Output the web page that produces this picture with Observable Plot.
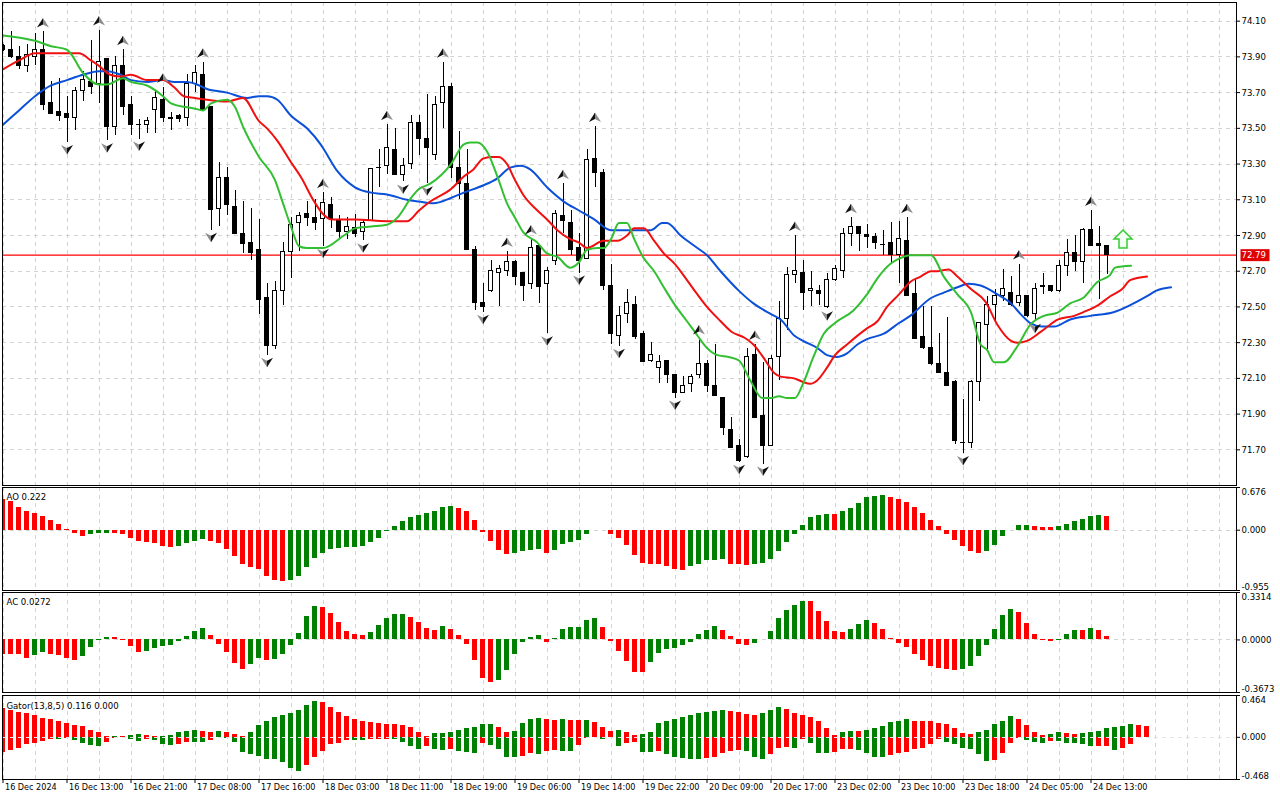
<!DOCTYPE html>
<html><head><meta charset="utf-8">
<script src="https://cdn.jsdelivr.net/npm/d3@7"></script>
<script src="https://cdn.jsdelivr.net/npm/@observablehq/plot@0.6"></script>
<style>
html,body{margin:0;padding:0;background:#fff;}
#wrap{position:relative;width:1280px;height:800px;overflow:hidden;background:#fff;}
</style></head><body><div id="wrap"></div>
<script>
// ---------- price data (one bar per hour, bar index 0..138) ----------
const open = [
73.96,73.94,73.90,73.85,73.90,73.94,73.64,73.59,73.58,73.56,
73.71,73.76,73.75,73.89,73.51,73.85,73.63,73.52,73.52,73.60,
73.66,73.55,73.57,73.56,73.75,73.80,73.62,73.05,73.22,73.06,
72.91,72.86,72.82,72.55,72.28,72.59,72.81,72.97,73.02,73.00,
72.99,73.07,72.98,72.92,72.94,72.92,72.98,73.28,73.29,73.38,
73.24,73.30,73.53,73.44,73.35,73.64,73.73,73.28,73.19,72.82,
72.52,72.59,72.69,72.70,72.75,72.69,72.63,72.84,72.63,72.76,
73.01,72.97,72.83,72.77,73.33,73.25,72.62,72.34,72.46,72.51,
72.35,72.20,72.16,72.20,72.12,72.02,72.07,72.12,72.18,72.06,
71.99,71.81,71.72,71.66,72.23,71.89,71.72,72.22,72.43,72.68,
72.69,72.59,72.59,72.50,72.65,72.70,72.91,72.95,72.90,72.89,
72.85,72.86,72.79,72.87,72.57,72.33,72.27,72.18,72.13,72.08,
71.74,71.74,72.08,72.40,72.51,72.56,72.58,72.52,72.56,72.46,
72.62,72.62,72.59,72.73,72.80,72.75,72.93,72.85,72.84];
const high = [
73.97,74.04,73.96,73.97,74.03,74.04,73.76,73.78,73.68,73.73,
73.82,73.99,74.05,73.89,73.90,73.94,73.68,73.55,73.56,73.71,
73.73,73.59,73.58,73.80,73.85,73.87,73.62,73.31,73.28,73.15,
73.09,73.05,72.99,72.63,72.64,72.86,73.00,73.03,73.09,73.10,
73.14,73.11,73.01,73.00,73.02,72.99,73.27,73.38,73.52,73.50,
73.33,73.57,73.57,73.69,73.68,73.87,73.75,73.48,73.38,72.84,
72.63,72.76,72.73,72.81,72.76,72.69,72.88,72.84,72.72,73.04,
73.19,73.04,72.91,73.38,73.51,73.27,72.74,72.50,72.60,72.56,
72.36,72.30,72.23,72.20,72.12,72.11,72.12,72.32,72.20,72.29,
71.99,71.88,71.76,72.27,72.29,72.19,72.23,72.53,72.72,72.90,
72.76,72.70,72.62,72.69,72.73,72.94,73.00,72.95,72.96,72.91,
72.93,72.97,72.98,73.00,72.66,72.50,72.50,72.35,72.44,72.09,
71.98,72.09,72.41,72.56,72.60,72.71,72.67,72.74,72.56,72.63,
72.69,72.62,72.76,72.88,72.90,72.94,73.04,72.95,72.84];
const low = [
73.93,73.89,73.83,73.81,73.85,73.60,73.58,73.54,73.42,73.49,
73.65,73.69,73.64,73.43,73.46,73.57,73.46,73.44,73.47,73.47,
73.53,73.49,73.53,73.51,73.70,73.60,72.93,72.95,73.01,72.91,
72.80,72.76,72.46,72.23,72.26,72.51,72.66,72.81,72.95,72.93,
72.84,72.94,72.88,72.88,72.89,72.87,72.98,73.17,73.24,73.24,
73.20,73.27,73.35,73.19,73.32,73.50,73.22,73.10,72.82,72.48,
72.47,72.58,72.50,72.67,72.62,72.53,72.60,72.52,72.35,72.73,
72.91,72.79,72.69,72.77,73.17,72.59,72.29,72.28,72.41,72.32,
72.19,72.19,72.07,72.07,71.99,72.02,72.02,72.10,72.02,72.00,
71.78,71.71,71.63,71.65,71.88,71.62,71.72,72.09,72.37,72.63,
72.48,72.50,72.51,72.49,72.64,72.66,72.84,72.81,72.83,72.82,
72.79,72.74,72.63,72.56,72.32,72.26,72.17,72.13,72.06,71.73,
71.68,71.71,71.97,72.26,72.42,72.53,72.50,72.50,72.44,72.42,
72.57,72.58,72.58,72.67,72.70,72.63,72.84,72.54,72.68];
const close = [
73.94,73.90,73.85,73.91,73.94,73.63,73.58,73.57,73.56,73.71,
73.77,73.73,73.87,73.51,73.85,73.62,73.52,73.52,73.54,73.67,
73.56,73.56,73.55,73.75,73.81,73.60,73.04,73.22,73.07,72.91,
72.85,72.80,72.54,72.28,72.59,72.81,72.96,73.01,73.00,72.97,
73.08,72.99,72.92,72.95,72.91,72.97,73.27,73.28,73.39,73.24,
73.29,73.53,73.44,73.39,73.63,73.73,73.28,73.19,72.82,72.52,
72.50,72.70,72.71,72.75,72.67,72.62,72.83,72.61,72.70,73.02,
72.98,72.82,72.76,73.32,73.25,72.62,72.35,72.45,72.52,72.33,
72.19,72.23,72.19,72.12,72.02,72.06,72.11,72.18,72.06,72.00,
71.82,71.71,71.64,72.22,71.88,71.72,72.21,72.43,72.68,72.70,
72.58,72.60,72.57,72.65,72.71,72.91,72.95,72.91,72.89,72.86,
72.85,72.79,72.88,72.56,72.32,72.27,72.18,72.13,72.06,71.75,
71.74,72.08,72.41,72.51,72.56,72.60,72.51,72.56,72.45,72.60,
72.61,72.59,72.73,72.80,72.75,72.93,72.84,72.84,72.79];

// ---------- Alligator lines [bar, price] ----------
const jaw = [[0,73.52],[2,73.60],[4,73.68],[6,73.74],[8,73.77],[10,73.80],[12,73.82],[13,73.82],[14.7,73.80],[16,73.77],[18,73.76],[20,73.77],[21.4,73.76],[23,73.76],[24,73.75],[25.5,73.72],[28,73.70],[30.5,73.67],[32,73.68],[33,73.68],[34.3,73.66],[36,73.57],[38,73.50],[39.7,73.41],[40,73.39],[41.8,73.26],[44,73.17],[46,73.14],[48,73.13],[50.5,73.10],[52,73.09],[53.8,73.08],[56,73.11],[57.6,73.14],[60,73.18],[61.8,73.22],[63.4,73.28],[64.7,73.29],[65.9,73.27],[68,73.17],[70.1,73.09],[72,73.04],[73.9,72.99],[76,72.93],[77.8,72.93],[78.9,72.93],[81,72.93],[82.4,72.97],[83,72.97],[84.7,72.90],[86.8,72.83],[88,72.79],[89.7,72.70],[92,72.59],[93.8,72.52],[96,72.46],[97.2,72.43],[98.9,72.34],[100,72.31],[101.8,72.27],[103,72.23],[104.2,72.22],[105.5,72.24],[106.8,72.29],[108,72.32],[110.1,72.35],[112,72.41],[113.4,72.45],[116,72.55],[117.6,72.58],[119.3,72.61],[120.7,72.63],[122.2,72.62],[124.3,72.57],[126,72.52],[127.2,72.46],[128.4,72.41],[129.9,72.39],[131.4,72.39],[133.4,72.43],[135.9,72.45],[138.8,72.47],[140.9,72.51],[143,72.56],[144.1,72.59],[146,72.61]];
const teeth = [[0,73.83],[2,73.88],[4,73.92],[6,73.92],[8,73.92],[9.5,73.92],[11,73.88],[12,73.85],[13.4,73.80],[14.7,73.79],[16,73.80],[18,73.77],[20,73.77],[21.4,73.73],[22.6,73.68],[24,73.67],[25.5,73.66],[28,73.65],[30,73.67],[32,73.54],[33,73.50],[34.3,73.43],[36,73.31],[37.2,73.23],[38.9,73.09],[40,73.02],[41,72.99],[44,72.99],[48,72.98],[50.5,72.98],[52,73.04],[53.4,73.09],[56,73.16],[57.6,73.23],[58.8,73.27],[60,73.33],[61,73.34],[62,73.34],[63,73.30],[64,73.21],[65,73.13],[66.8,73.04],[68,72.99],[69.3,72.93],[70.9,72.88],[72,72.86],[73,72.83],[75.1,72.87],[76.8,72.87],[78,72.90],[78.9,72.94],[80.1,72.94],[81.4,72.87],[82.6,72.80],[84,72.74],[85.5,72.65],[86.8,72.57],[88,72.50],[89.7,72.42],[91.1,72.36],[92.6,72.33],[93.8,72.29],[95,72.22],[96.4,72.13],[97.2,72.11],[98.9,72.10],[100,72.08],[100.9,72.07],[101.8,72.09],[103,72.16],[104,72.23],[105.5,72.29],[108,72.38],[109.3,72.42],[110.5,72.50],[112,72.57],[113.4,72.64],[114.7,72.67],[116,72.70],[116.8,72.70],[118.2,72.71],[119.3,72.67],[121,72.60],[122.8,72.53],[124.3,72.40],[126,72.31],[126.8,72.30],[128,72.31],[129.7,72.36],[131.9,72.43],[133.9,72.45],[135,72.47],[136.9,72.51],[138.4,72.56],[139.9,72.60],[140.9,72.65],[143,72.67]];
const lips = [[0,74.02],[4,73.99],[6,73.96],[8,73.94],[10,73.81],[12,73.745],[13,73.745],[15,73.78],[16,73.76],[18,73.74],[20,73.68],[21,73.64],[24,73.61],[25,73.60],[26,73.64],[28,73.66],[29,73.62],[30,73.51],[32,73.34],[34,73.21],[35,73.08],[36,72.95],[37,72.84],[38,72.83],[40,72.83],[42.6,72.90],[44,72.94],[46,72.95],[48,72.96],[49.3,73.00],[51,73.11],[52,73.16],[53.4,73.19],[56,73.30],[57.6,73.41],[58.4,73.42],[59.3,73.42],[60.5,73.37],[61.8,73.23],[63,73.08],[64,73.00],[65,72.92],[66.8,72.86],[68,72.80],[69.3,72.78],[70.9,72.72],[72,72.75],[73,72.82],[74.3,72.83],[75.1,72.83],[76,72.88],[77,72.97],[78,72.97],[78.9,72.88],[80,72.78],[81.4,72.70],[82.6,72.61],[84,72.51],[85.5,72.42],[86.8,72.34],[88,72.27],[89.3,72.23],[90.7,72.22],[92,72.20],[93.4,72.09],[94.9,71.99],[96,71.99],[97,72.00],[98,71.99],[99,71.99],[100,72.07],[101.3,72.22],[102.6,72.35],[104,72.41],[106.3,72.48],[108,72.57],[109.3,72.66],[110.9,72.74],[112,72.77],[113.4,72.79],[114.7,72.79],[116,72.79],[117.6,72.67],[119.3,72.57],[121,72.47],[122.2,72.29],[123,72.26],[123.9,72.19],[125.1,72.19],[126.8,72.28],[128.4,72.40],[130.1,72.45],[131.9,72.47],[133.4,72.52],[135,72.55],[136.8,72.64],[138.4,72.68],[139,72.72],[141,72.73]];

// ---------- fractals (bar indices) and signal ----------
const upFractals = [5,12,15,20,25,40,48,55,63,66,70,74,87,94,99,106,113,127,136];
const downFractals = [8,13,17,26,33,40,45,50,53,60,68,72,77,84,92,95,103,120,129];
const signals = [{k:140, p:72.88}];

// ---------- oscillators ----------
const ao = [
0.490,0.447,0.367,0.303,0.271,0.223,0.160,0.096,0.016,-0.059,
-0.096,-0.074,-0.060,-0.058,-0.060,-0.061,-0.128,-0.180,-0.200,-0.218,
-0.255,-0.270,-0.255,-0.218,-0.175,-0.144,-0.175,-0.218,-0.303,-0.415,
-0.537,-0.590,-0.622,-0.734,-0.793,-0.814,-0.790,-0.734,-0.590,-0.441,
-0.362,-0.303,-0.287,-0.271,-0.268,-0.255,-0.202,-0.128,-0.027,0.064,
0.144,0.207,0.239,0.261,0.293,0.367,0.383,0.351,0.303,0.160,
-0.043,-0.186,-0.314,-0.378,-0.362,-0.330,-0.314,-0.310,-0.362,-0.314,
-0.234,-0.202,-0.170,-0.074,-0.010,-0.012,-0.074,-0.132,-0.249,-0.397,
-0.524,-0.540,-0.545,-0.577,-0.630,-0.635,-0.577,-0.540,-0.487,-0.477,
-0.472,-0.540,-0.550,-0.555,-0.540,-0.520,-0.470,-0.330,-0.196,-0.074,
0.069,0.200,0.238,0.254,0.250,0.297,0.350,0.430,0.510,0.540,
0.545,0.510,0.490,0.440,0.360,0.270,0.160,0.053,-0.064,-0.170,
-0.265,-0.344,-0.365,-0.344,-0.249,-0.106,-0.010,0.069,0.080,0.058,
0.048,0.042,0.053,0.095,0.138,0.175,0.215,0.232,0.222];
const ac = [
-0.099,-0.100,-0.104,-0.127,-0.108,-0.085,-0.099,-0.108,-0.127,-0.141,
-0.115,-0.051,-0.005,0.016,0.015,-0.004,-0.046,-0.085,-0.078,-0.060,
-0.044,-0.037,-0.009,0.023,0.058,0.078,0.030,-0.030,-0.088,-0.162,
-0.210,-0.169,-0.129,-0.143,-0.136,-0.099,-0.037,0.046,0.162,0.231,
0.224,0.182,0.120,0.058,0.037,0.030,0.051,0.099,0.148,0.176,
0.177,0.155,0.120,0.079,0.065,0.092,0.072,0.030,-0.030,-0.141,
-0.266,-0.300,-0.286,-0.217,-0.099,-0.016,0.016,0.030,-0.016,0.009,
0.072,0.085,0.086,0.134,0.148,0.085,-0.009,-0.084,-0.148,-0.228,
-0.230,-0.160,-0.096,-0.066,-0.059,-0.039,-0.016,0.037,0.064,0.091,
0.068,0.027,-0.034,-0.039,-0.023,0.005,0.057,0.150,0.205,0.240,
0.270,0.268,0.200,0.126,0.057,0.050,0.075,0.110,0.137,0.116,
0.071,0.007,-0.023,-0.055,-0.103,-0.142,-0.183,-0.203,-0.210,-0.217,
-0.210,-0.183,-0.114,-0.039,0.071,0.174,0.212,0.194,0.116,0.041,
-0.002,-0.009,-0.004,0.041,0.068,0.067,0.082,0.064,0.0272];
const gatorUp = [
0.315,0.296,0.278,0.259,0.237,0.204,0.193,0.170,0.148,0.133,
0.115,0.081,0.048,0.005,0.011,0.010,0.015,0.033,0.019,0.010,
0.011,0.015,0.048,0.070,0.071,0.069,0.056,0.070,0.048,0.026,
0.008,0.059,0.126,0.181,0.215,0.237,0.259,0.296,0.348,0.393,
0.381,0.326,0.270,0.226,0.193,0.181,0.159,0.148,0.147,0.146,
0.133,0.104,0.059,0.008,0.037,0.040,0.059,0.081,0.100,0.104,
0.137,0.138,0.104,0.059,0.070,0.148,0.196,0.204,0.193,0.190,
0.193,0.185,0.184,0.186,0.159,0.104,0.070,0.071,0.059,0.015,
0.026,0.048,0.148,0.181,0.193,0.215,0.237,0.259,0.270,0.290,
0.293,0.291,0.270,0.256,0.237,0.259,0.293,0.326,0.304,0.259,
0.237,0.215,0.170,0.093,0.015,0.059,0.070,0.069,0.071,0.093,
0.115,0.159,0.181,0.193,0.181,0.180,0.170,0.148,0.137,0.093,
0.037,0.026,0.059,0.081,0.137,0.181,0.226,0.196,0.126,0.059,
0.015,0.026,0.048,0.037,0.036,0.038,0.059,0.070,0.093,0.104,
0.115,0.137,0.126,0.116];
const gatorDown = [
-0.167,-0.148,-0.119,-0.081,-0.067,-0.048,-0.020,-0.026,-0.008,-0.037,
-0.074,-0.096,-0.097,-0.063,-0.011,-0.006,-0.019,-0.048,-0.026,-0.037,
-0.085,-0.096,-0.081,-0.056,-0.058,-0.063,-0.037,-0.004,-0.015,-0.063,
-0.170,-0.196,-0.211,-0.241,-0.248,-0.281,-0.348,-0.381,-0.315,-0.226,
-0.159,-0.081,-0.074,-0.030,-0.037,-0.038,-0.026,-0.025,-0.020,-0.021,
-0.063,-0.107,-0.130,-0.107,-0.130,-0.144,-0.137,-0.159,-0.170,-0.174,
-0.070,-0.090,-0.130,-0.222,-0.223,-0.211,-0.185,-0.190,-0.159,-0.150,
-0.155,-0.159,-0.093,-0.008,-0.007,-0.026,-0.004,-0.107,-0.074,-0.063,
-0.163,-0.164,-0.152,-0.196,-0.219,-0.230,-0.241,-0.242,-0.240,-0.219,
-0.174,-0.160,-0.148,-0.152,-0.226,-0.248,-0.196,-0.119,-0.118,-0.120,
-0.026,-0.074,-0.174,-0.185,-0.163,-0.137,-0.136,-0.148,-0.185,-0.219,
-0.220,-0.207,-0.185,-0.163,-0.137,-0.119,-0.085,-0.019,-0.052,-0.085,
-0.119,-0.130,-0.196,-0.263,-0.262,-0.185,-0.074,-0.010,-0.037,-0.063,
-0.064,-0.045,-0.050,-0.070,-0.074,-0.075,-0.107,-0.105,-0.104,-0.141,
-0.119,-0.081,0,0];

// ---------- scales / ticks / labels ----------
const priceTicks = [74.10,73.90,73.70,73.50,73.30,73.10,72.90,72.70,72.50,72.30,72.10,71.90,71.70];
const aoRange = [-0.955, 0.676];
const acRange = [-0.3673, 0.3314];
const gatorRange = [-0.468, 0.464];
const timeLabels = ["16 Dec 2024","16 Dec 13:00","16 Dec 21:00","17 Dec 08:00","17 Dec 16:00","18 Dec 03:00","18 Dec 11:00","18 Dec 19:00","19 Dec 06:00","19 Dec 14:00","19 Dec 22:00","20 Dec 09:00","20 Dec 17:00","23 Dec 02:00","23 Dec 10:00","23 Dec 18:00","24 Dec 05:00","24 Dec 13:00"];

// ---------- rendering ----------
const FONT = "'DejaVu Sans Condensed','Liberation Sans',Arial,sans-serif";
const FS = 9.5, FS_X = 9;
const GRID = {stroke:"#d2d2d2", strokeOpacity:1, strokeDasharray:"4,4", shapeRendering:"crispEdges"};
const GREEN = "#008000", RED = "#ff0000";
const W = 1280, ML = 2, MR = 44;
const xDomain = [-0.0625, 154.1875];
const gridBars = d3.range(0, 153, 4);
const wrap = document.getElementById("wrap");
const baseStyle = {fontFamily: FONT, fontSize: FS + "px", color: "#000", background: "transparent", overflow: "visible"};
function place(svg, top) { svg.style.position = "absolute"; svg.style.left = "0px"; svg.style.top = top + "px"; wrap.appendChild(svg); }

const candles = open.map((o, i) => ({k: i, o, h: high[i], l: low[i], c: close[i]}));
const lastPrice = close[close.length - 1];
const pts = arr => arr.map(([k, v]) => ({k, v}));

const upL = {draw(c){c.moveTo(0,-5);c.lineTo(-6,4.5);c.lineTo(0,1.5);c.closePath();}};
const upR = {draw(c){c.moveTo(0,-5);c.lineTo(6,4.5);c.lineTo(0,1.5);c.closePath();}};
const dnL = {draw(c){c.moveTo(0,5);c.lineTo(-6,-4.5);c.lineTo(0,-1.5);c.closePath();}};
const dnR = {draw(c){c.moveTo(0,5);c.lineTo(6,-4.5);c.lineTo(0,-1.5);c.closePath();}};
const bigArrow = {draw(c){c.moveTo(0,-9);c.lineTo(9,0);c.lineTo(4,0);c.lineTo(4,9);c.lineTo(-4,9);c.lineTo(-4,0);c.lineTo(-9,0);c.closePath();}};
const boxSym = {draw(c){c.rect(-14.5,-6,29,12);}};

const main = Plot.plot({
  width: W, height: 487, marginLeft: ML, marginRight: MR, marginTop: 2, marginBottom: 2,
  x: {domain: xDomain, axis: null},
  y: {domain: [71.5003, 74.2045], axis: null},
  style: baseStyle,
  marks: [
    Plot.gridY(priceTicks, GRID),
    Plot.gridX(gridBars, GRID),
    Plot.ruleY([lastPrice], {stroke: "#ff0000", strokeOpacity: 1, strokeWidth: 1.2}),
    Plot.ruleX(candles, {x: "k", y1: "l", y2: "h", stroke: "#000", clip: true, shapeRendering: "crispEdges"}),
    Plot.rect(candles, {x1: d => d.k - 0.3, x2: d => d.k + 0.3, y1: "o", y2: "c",
      fill: d => d.c > d.o ? "#ffffff" : "#000000", stroke: "#000", strokeWidth: 1, clip: true, shapeRendering: "crispEdges"}),
    Plot.ruleY(candles.filter(d => d.o === d.c), {x1: d => d.k - 0.35, x2: d => d.k + 0.35, y: "c", stroke: "#000", clip: true, shapeRendering: "crispEdges"}),
    Plot.line(pts(jaw), {x: "k", y: "v", stroke: "#0b50d8", strokeWidth: 2, curve: "monotone-x", clip: true}),
    Plot.line(pts(teeth), {x: "k", y: "v", stroke: "#f01010", strokeWidth: 2, curve: "monotone-x", clip: true}),
    Plot.line(pts(lips), {x: "k", y: "v", stroke: "#32c032", strokeWidth: 2, curve: "monotone-x", clip: true}),
    Plot.dot(upFractals, {x: d => d, y: d => high[d], symbol: upL, fill: "#111", r: 5, dy: -9}),
    Plot.dot(upFractals, {x: d => d, y: d => high[d], symbol: upR, fill: "#8c8c8c", r: 5, dy: -9}),
    Plot.dot(downFractals, {x: d => d, y: d => low[d], symbol: dnL, fill: "#8c8c8c", r: 5, dy: 7}),
    Plot.dot(downFractals, {x: d => d, y: d => low[d], symbol: dnR, fill: "#111", r: 5, dy: 7}),
    Plot.dot(signals, {x: "k", y: "p", symbol: bigArrow, fill: "#f4fff4", stroke: "#33cc33", strokeWidth: 1.5, r: 9}),
    Plot.frame({stroke: "#000", shapeRendering: "crispEdges"}),
    Plot.axisY({ticks: priceTicks, anchor: "right", tickSize: 3, tickPadding: 2, tickFormat: d => d.toFixed(2), label: null, fontSize: FS}),
    Plot.dot([lastPrice], {y: d => d, frameAnchor: "right", dx: 18.5, symbol: boxSym, fill: "#e00000", r: 6}),
    Plot.text([lastPrice], {y: d => d, frameAnchor: "right", dx: 5, textAnchor: "start", text: d => d.toFixed(2), fill: "#fff", fontSize: FS})
  ]
});
place(main, 0);

function rising(vals, useAbs) {
  return vals.map((v, i) => i > 0 && (useAbs ? Math.abs(v) > Math.abs(vals[i - 1]) : v > vals[i - 1]));
}
function sideLabels(range, dec) {
  const [lo, hi] = range;
  const o = {frameAnchor: "right", dx: 5, textAnchor: "start", fill: "#000", fontSize: FS};
  return [
    Plot.axisY({ticks: [lo, 0, hi], anchor: "right", tickSize: 3, tickFormat: () => "", label: null}),
    Plot.text([hi], {...o, y: d => d, lineAnchor: "top", dy: 1, text: d => d.toFixed(dec)}),
    Plot.text([0], {...o, y: d => d, lineAnchor: "middle", text: d => d.toFixed(dec)}),
    Plot.text([lo], {...o, y: d => d, lineAnchor: "bottom", dy: -1, text: d => d.toFixed(dec)})
  ];
}
function histo(vals, up) {
  const data = vals.map((v, i) => ({k: i, v, up: up[i]}));
  return Plot.rect(data, {x1: d => d.k - 0.33, x2: d => d.k + 0.33, y1: () => 0, y2: "v",
    fill: d => d.up ? GREEN : RED, clip: true, shapeRendering: "crispEdges"});
}
function title(txt, dy) {
  return Plot.text([txt], {frameAnchor: "top-left", dx: 4, dy, text: d => d, textAnchor: "start", lineAnchor: "middle", fill: "#000", fontSize: FS});
}

const aoPlot = Plot.plot({
  width: W, height: 105, marginLeft: ML, marginRight: MR, marginTop: 1, marginBottom: 1,
  x: {domain: xDomain, axis: null}, y: {domain: aoRange, axis: null}, style: baseStyle,
  marks: [
    Plot.gridX(gridBars, GRID), Plot.gridY([0], GRID),
    histo(ao, rising(ao, false)),
    Plot.frame({stroke: "#000", shapeRendering: "crispEdges"}),
    title("AO " + ao[ao.length - 1].toFixed(3), 9),
    ...sideLabels(aoRange, 3)
  ]
});
place(aoPlot, 486);

const acPlot = Plot.plot({
  width: W, height: 102, marginLeft: ML, marginRight: MR, marginTop: 1, marginBottom: 1,
  x: {domain: xDomain, axis: null}, y: {domain: acRange, axis: null}, style: baseStyle,
  marks: [
    Plot.gridX(gridBars, GRID), Plot.gridY([0], GRID),
    histo(ac, rising(ac, false)),
    Plot.frame({stroke: "#000", shapeRendering: "crispEdges"}),
    title("AC " + ac[ac.length - 1].toFixed(4), 9),
    ...sideLabels(acRange, 4)
  ]
});
place(acPlot, 591);

const timeTicks = timeLabels.map((t, i) => ({k: i * 8, t}));
const gatorPlot = Plot.plot({
  width: W, height: 107, marginLeft: ML, marginRight: MR, marginTop: 2, marginBottom: 21,
  x: {domain: xDomain, axis: null}, y: {domain: gatorRange, axis: null}, style: baseStyle,
  marks: [
    Plot.gridX(gridBars, GRID),
    histo(gatorUp, rising(gatorUp, true)),
    histo(gatorDown, rising(gatorDown, true)),
    Plot.gridY([0], {stroke: "#e4e4e4", strokeOpacity: 1, strokeDasharray: "4,4", shapeRendering: "crispEdges"}),
    Plot.frame({stroke: "#000", shapeRendering: "crispEdges"}),
    title("Gator(13,8,5) " + gatorUp[gatorUp.length - 1].toFixed(3) + " " + Math.abs(gatorDown[gatorDown.length - 1]).toFixed(3), 10),
    ...sideLabels(gatorRange, 3),
    Plot.axisX({ticks: timeTicks.map(d => d.k), anchor: "bottom", tickSize: 4, tickFormat: () => "", label: null}),
    Plot.text(timeTicks, {x: "k", text: "t", frameAnchor: "bottom", textAnchor: "start", lineAnchor: "top", dx: 2, dy: 4, fill: "#000", fontSize: FS_X})
  ]
});
place(gatorPlot, 693);
</script>
</body></html>
